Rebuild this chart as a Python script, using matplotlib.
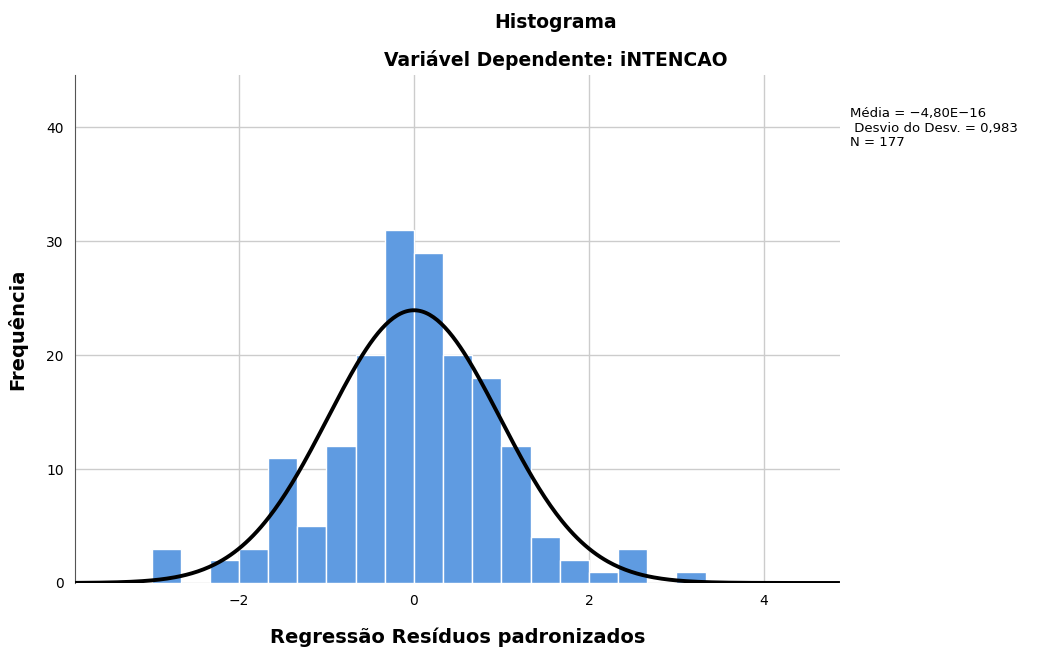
import numpy as np
import matplotlib.pyplot as plt

# histogram of standardized residuals (bin width 1/3)
bin_edges = np.arange(-3.0, 3.34, 1/3)
counts = [3, 0, 2, 3, 11, 5, 12, 20, 31, 29, 20, 18, 12, 4, 2, 1, 3, 0, 1]

mean = -4.80e-16
sd = 0.983
n = 177

fig = plt.figure(figsize=(10.38, 6.5), dpi=100)
ax = fig.add_axes([0.0723, 0.1031, 0.7369, 0.7815])

w = bin_edges[1] - bin_edges[0]
ax.bar(bin_edges[:len(counts)], counts, width=w, align='edge',
       color='#5f9be1', edgecolor='white', linewidth=1.0, zorder=2)

# fitted normal curve
xs = np.linspace(-3.874, 4.87, 400)
ys = n * w / (sd * np.sqrt(2*np.pi)) * np.exp(-0.5*((xs-mean)/sd)**2)
ax.plot(xs, ys, color='black', lw=2.8, zorder=3, solid_capstyle='butt')

ax.set_xlim(-3.874, 4.87)
ax.set_ylim(0, 44.6)
ax.set_xticks([-2, 0, 2, 4])
ax.set_xticklabels(['\u22122', '0', '2', '4'])
ax.set_yticks([0, 10, 20, 30, 40])
ax.grid(True, color='#cccccc', lw=1.0, zorder=0)
ax.set_axisbelow(True)
for s in ['top', 'right', 'bottom']:
    ax.spines[s].set_visible(False)
ax.spines['left'].set_color('#555555')
ax.tick_params(length=0, labelsize=10, pad=8)

ax.set_xlabel('Regressão Resíduos padronizados', fontsize=14, fontweight='bold', labelpad=14)
ax.set_ylabel('Frequência', fontsize=14, fontweight='bold', labelpad=14)

fig.text(0.535, 0.966, 'Histograma', ha='center', va='center', fontsize=13.5, fontweight='bold')
fig.text(0.535, 0.907, 'Variável Dependente: iNTENCAO', ha='center', va='center', fontsize=13.5, fontweight='bold')

fig.text(0.819, 0.803, 'Média = \u22124,80E\u221216\n Desvio do Desv. = 0,983\nN = 177',
         ha='left', va='center', fontsize=9.5, linespacing=1.12)

plt.savefig('out.png')
